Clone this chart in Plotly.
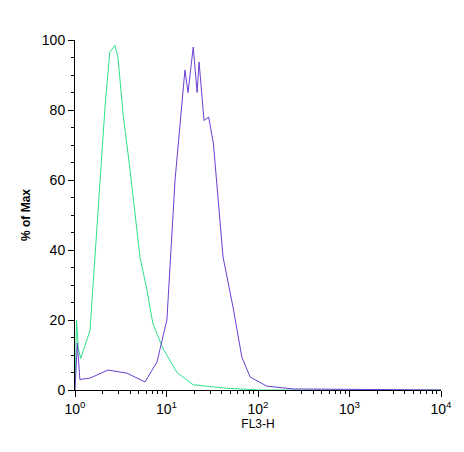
import plotly.graph_objects as go

# Green (control) histogram
green_x = [1.0, 1.04, 1.086, 1.154, 1.46, 1.876, 2.13, 2.40, 2.73, 2.95, 3.35, 3.99, 5.13,
           6.12, 7.1, 9.1, 13.0, 19.6, 45.7, 105, 10000]
green_y = [0, 20, 12, 9, 17, 60, 81, 96.5, 98.5, 95, 79, 63, 38,
           28.5, 19, 12, 5, 1.5, 0.5, 0, 0]

# Purple (stained) histogram
purple_x = [1.0, 1.06, 1.13, 1.46, 2.29, 3.70, 5.82, 7.87, 10.1, 12.4, 15.9, 17.2, 19.6,
            21.6, 22.7, 25.7, 28.9, 32.5, 41.5, 53.3, 66.6, 82, 125, 241, 10000]
purple_y = [0, 13.4, 3, 3.4, 5.7, 4.8, 2.3, 8, 20, 60, 91.4, 85, 98,
            85, 93.7, 77, 78, 70.6, 38, 23.7, 9.4, 3.7, 1.1, 0.3, 0]

fig = go.Figure()
fig.add_trace(go.Scatter(x=green_x, y=green_y, mode='lines',
                         line=dict(color='#2ee08a', width=1), showlegend=False))
fig.add_trace(go.Scatter(x=purple_x, y=purple_y, mode='lines',
                         line=dict(color='#6a3fd0', width=1), showlegend=False))

tickvals = [1, 10, 100, 1000, 10000]
ticktext = ['10<sup>0</sup>', '10<sup>1</sup>', '10<sup>2</sup>', '10<sup>3</sup>', '10<sup>4</sup>']

fig.update_layout(
    width=464, height=452,
    margin=dict(l=67, r=31, t=32, b=70, autoexpand=False),
    plot_bgcolor='white', paper_bgcolor='white',
    font=dict(family='Liberation Sans, Arial', size=14, color='black'),
    xaxis=dict(type='log', range=[0, 4], tickvals=tickvals, ticktext=ticktext,
               showgrid=False, showline=True, linecolor='black', linewidth=1,
               ticks='outside', ticklen=6, tickcolor='black',
               minor=dict(ticks='outside', ticklen=3, tickcolor='black',
                          tickvals=[v * m for v in [1, 10, 100, 1000] for m in range(2, 10)]),
               title=dict(text='FL3-H', font=dict(size=12), standoff=2), zeroline=False),
    yaxis=dict(range=[0, 100], tickvals=[0, 20, 40, 60, 80, 100],
               showgrid=False, showline=True, linecolor='black', linewidth=1,
               ticks='outside', ticklen=6, tickcolor='black',
               minor=dict(ticks='outside', ticklen=3, tickcolor='black', dtick=5),
               title=dict(text='<b>% of Max</b>', font=dict(size=12), standoff=8), zeroline=False),
)

fig.write_html("out.html")
